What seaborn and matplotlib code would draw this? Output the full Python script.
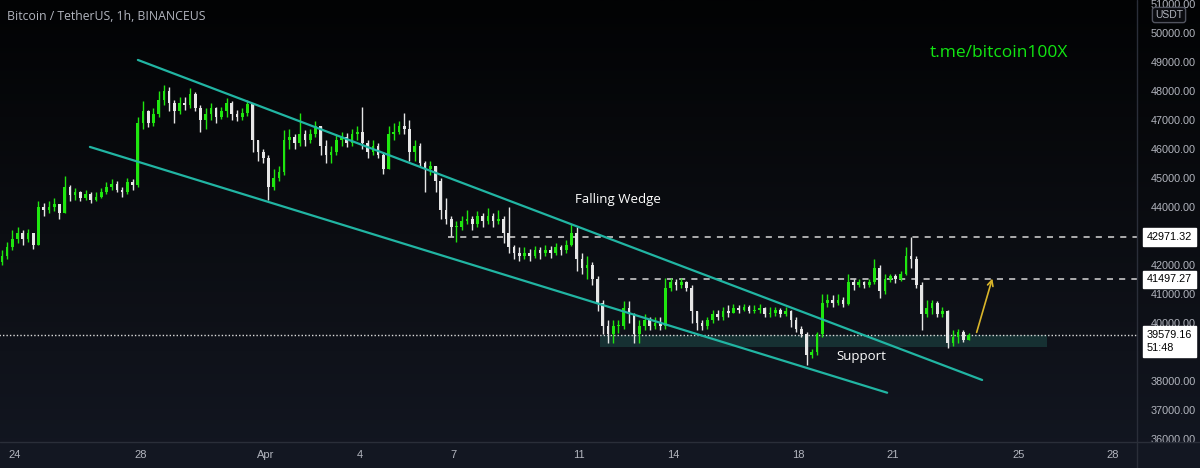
import numpy as np
import pandas as pd

import matplotlib
matplotlib.use('AGG')
import matplotlib.pyplot as plt
from matplotlib.patches import Rectangle
from matplotlib.colors import LinearSegmentedColormap
from matplotlib.transforms import blended_transform_factory
import seaborn as sns

sns.set_theme(style="dark", rc={
        "axes.facecolor": "none",
        "figure.facecolor": "#131722",
        'axes.spines.left': False,
        'axes.spines.right': False,
        'axes.spines.top': False,
        'axes.spines.bottom': False})
plt.rcParams['font.family'] = ['Liberation Sans', 'DejaVu Sans']

# 4h candles from Mar 23 12:00 to Apr 23 08:00, day 0 = Mar 24
start_day = -0.5
first_open = 42100

closes = [
    42300, 42600, 42900,                              # Mar 23
    43100, 42900, 43100, 42700, 44000, 43900,          # Mar 24
    44000, 44100, 43800, 44700, 44400, 44500,          # Mar 25
    44300, 44450, 44250, 44350, 44500, 44700,          # Mar 26
    44800, 44600, 44500, 44850, 44750, 46900,          # Mar 27
    47300, 46900, 47200, 47700, 48000, 47600,          # Mar 28
    47300, 47600, 47500, 47900, 47400, 47000,          # Mar 29
    47200, 47400, 47100, 47300, 47600, 47200,          # Mar 30
    47100, 47250, 47550, 46300, 45900, 45700,          # Mar 31
    44700, 45000, 45200, 46300, 46400, 46200,          # Apr 1
    46500, 46300, 46500, 46800, 46100, 45800,          # Apr 2
    45900, 46300, 46400, 46200, 46500, 46600,          # Apr 3
    46200, 45900, 46100, 45800, 45300, 46500,          # Apr 4
    46600, 46800, 46700, 45900, 46100, 45500,          # Apr 5
    45300, 45400, 44900, 43900, 43600, 43300,          # Apr 6
    43300, 43500, 43600, 43400, 43700, 43500,          # Apr 7
    43700, 43500, 43600, 43100, 42600, 42400,          # Apr 8
    42300, 42400, 42300, 42500, 42400, 42500,          # Apr 9
    42400, 42600, 42500, 42700, 43100, 42200,          # Apr 10
    41900, 42000, 41500, 40700, 39900, 39600,          # Apr 11
    39900, 39900, 40500, 40300, 39600, 39900,          # Apr 12
    40100, 39900, 40000, 39900, 41200, 41400,          # Apr 13
    41300, 41400, 41200, 40400, 40000, 39900,          # Apr 14
    40100, 40300, 40200, 40400, 40350, 40500,          # Apr 15
    40450, 40550, 40400, 40450, 40500, 40300,          # Apr 16
    40350, 40450, 40300, 40400, 40100, 39800,          # Apr 17
    39600, 38900, 39000, 39600, 40700, 40800,          # Apr 18
    40700, 40800, 40650, 41400, 41300, 41400,          # Apr 19
    41300, 41400, 41900, 41100, 41500, 41600,          # Apr 20
    41500, 41700, 42300, 42200, 41300, 40300,          # Apr 21
    40500, 40700, 40300, 40400, 39300, 39500,          # Apr 22
    39700, 39400, 39579.16,                            # Apr 23
]

highs = [
    42500, 42800, 43200,
    43300, 43200, 43250, 43000, 44200, 44150,
    44200, 44300, 44100, 45050, 44750, 44650,
    44550, 44600, 44500, 44500, 44650, 44850,
    44950, 44900, 44700, 45000, 44950, 47100,
    47650, 47350, 47400, 48000, 48200, 48150,
    47700, 47800, 47800, 48100, 47950, 47500,
    47400, 47600, 47450, 47450, 47750, 47650,
    47350, 47400, 47700, 47600, 46300, 46000,
    45800, 45300, 45400, 46650, 46700, 46500,
    47250, 46650, 46700, 46950, 46800, 46300,
    46100, 46500, 46600, 46550, 46700, 46800,
    47450, 46300, 46300, 46200, 45900, 46800,
    46900, 46950, 47250, 47000, 46300, 46200,
    45600, 45600, 45400, 45000, 44300, 43700,
    43500, 43700, 43900, 43700, 43850, 43800,
    43950, 43800, 43900, 43700, 44000, 42700,
    42600, 42600, 42550, 42650, 42600, 42700,
    42650, 42750, 42700, 42850, 43400, 43300,
    42400, 42300, 42100, 41600, 40800, 40100,
    40100, 40100, 40750, 40750, 40350, 40100,
    40300, 40200, 40200, 40200, 41550, 41550,
    41500, 41550, 41450, 41300, 40400, 40100,
    40200, 40450, 40450, 40550, 40600, 40650,
    40600, 40650, 40600, 40600, 40650, 40550,
    40550, 40550, 40500, 40550, 40450, 40200,
    39900, 39700, 39100, 39700, 41000, 41000,
    40950, 41000, 40900, 41700, 41500, 41500,
    41450, 41500, 42200, 42000, 41700, 41700,
    41700, 41800, 42600, 42971.32, 42300, 41400,
    40800, 40800, 40750, 40550, 40450, 39750,
    39800, 39750, 39650,
]

lows = [
    42000, 42200, 42500,
    42750, 42700, 42800, 42550, 42700, 43700,
    43800, 43850, 43600, 43800, 44200, 44250,
    44200, 44250, 44150, 44200, 44300, 44450,
    44600, 44500, 44350, 44450, 44600, 44700,
    46700, 46750, 46800, 47100, 47500, 47300,
    46900, 47200, 47350, 47400, 47300, 46600,
    46700, 47000, 46900, 47050, 47100, 47000,
    46950, 47000, 47150, 45900, 45600, 45500,
    44250, 44600, 44900, 45100, 46000, 46000,
    46100, 46100, 46200, 46400, 45800, 45500,
    45500, 45800, 46100, 46050, 46100, 46300,
    46000, 45700, 45800, 45700, 45150, 45300,
    46300, 46500, 46500, 45600, 45600, 45400,
    44500, 45100, 44500, 43600, 43400, 43000,
    42800, 43200, 43400, 43200, 43300, 43300,
    43400, 43300, 43400, 42750, 42400, 42200,
    42150, 42200, 42150, 42250, 42200, 42300,
    42250, 42350, 42350, 42400, 42650, 41800,
    41700, 41500, 41300, 40400, 39600, 39300,
    39300, 39650, 39800, 40000, 39300, 39300,
    39750, 39750, 39800, 39750, 39800, 41100,
    41150, 41200, 41100, 40000, 39750, 39750,
    39800, 40000, 40100, 40100, 40200, 40350,
    40350, 40400, 40350, 40350, 40350, 40200,
    40200, 40250, 40200, 40250, 39850, 39700,
    39500, 38550, 38800, 38900, 39500, 40550,
    40550, 40600, 40550, 40600, 41150, 41250,
    41200, 41250, 41350, 40850, 41000, 41400,
    41380, 41450, 41650, 41900, 41200, 39750,
    40200, 40300, 40200, 40200, 39150, 39200,
    39300, 39350, 39450,
]

# x ticks (days from Mar 24)
tick_days = [0, 4, 8, 11, 14, 18, 21, 25, 28, 32, 35]
tick_labels = ['24', '28', 'Apr', '4', '7', '11', '14', '18', '21', '25', '28']

# price scale; 43000 and 39000 sit under the price boxes
price_ticks = list(range(36000, 51001, 1000))
hidden_ticks = [43000, 39000]

# drawings
upper_line = {'day': [3.92, 30.85], 'price': [49070, 38030]}
lower_line = {'day': [2.39, 27.82], 'price': [46070, 37590]}
resistance = [42971.32, 41497.27]
resistance_start = [13.8, 19.23]
last_price = 39579.16
support_zone = (18.66, 32.92, 39170, 39580)

UP = '#1fe60f'
DOWN = '#e6e6e6'
TEAL = '#21b5a3'
GRAY = '#b2b5be'

df = pd.DataFrame({'close': closes, 'high': highs, 'low': lows})
df['open'] = [first_open] + closes[:-1]
df['day'] = start_day + np.arange(len(df)) / 6 + 1 / 12
df['high'] = df[['high', 'open', 'close']].max(axis=1)
df['low'] = df[['low', 'open', 'close']].min(axis=1)
df['color'] = np.where(df['close'] >= df['open'], UP, DOWN)

fig = plt.figure(figsize=(12, 4.68), dpi=100)

# background gradient
bg = fig.add_axes([0, 0, 1, 1], zorder=-5)
cmap = LinearSegmentedColormap.from_list('bg', ['#020304', '#0b0d12', '#131722'])
bg.imshow(np.linspace(0, 1, 256).reshape(-1, 1), aspect='auto', cmap=cmap,
          extent=[0, 1, 0, 1], origin='upper')
bg.set_axis_off()
fig.add_artist(Rectangle((0, 0), 1, 26 / 468, transform=fig.transFigure,
                         color='#131722', zorder=-4))
fig.add_artist(plt.Line2D([0, 1], [26 / 468, 26 / 468], transform=fig.transFigure,
                          color='#2a2e39', lw=1))
fig.add_artist(plt.Line2D([1137 / 1200, 1137 / 1200], [0, 1], transform=fig.transFigure,
                          color='#2a2e39', lw=1))

ax = fig.add_axes([0, 26 / 468, 1137 / 1200, 442 / 468])
ax.set_xlim(-0.478, 35.79)
ax.set_ylim(35890, 51138)

# candles
ax.vlines(df['day'], df['low'], df['high'], colors=df['color'], lw=1, zorder=3)
body = (df['close'] - df['open']).where(lambda s: s.abs() > 25, 25)
ax.bar(df['day'], body, bottom=df['open'], width=0.085, color=df['color'],
       linewidth=0, zorder=3)

# wedge
for line in (upper_line, lower_line):
    sns.lineplot(x=line['day'], y=line['price'], color=TEAL, lw=1.6, ax=ax, zorder=4)

# support zone
x0, x1, y0, y1 = support_zone
ax.add_patch(Rectangle((x0, y0), x1 - x0, y1 - y0, facecolor='#1d4644',
                       alpha=0.6, edgecolor='none', zorder=2))

# resistance levels
for lvl, s in zip(resistance, resistance_start):
    ax.plot([s, 36], [lvl, lvl], color='#d8d8d8', lw=1.1, ls=(0, (4, 4)), zorder=2)
ax.plot([-1, 36], [last_price, last_price], color='#dddddd', lw=1, ls=(0, (1, 1.5)), zorder=2)

ax.annotate('', xy=(31.2, 41620), xytext=(30.65, last_price),
            arrowprops=dict(arrowstyle='->', color='#d9b52a', lw=1.2,
                            mutation_scale=10), zorder=5)

ax.text(19.23, 44240, 'Falling Wedge', color='white', fontsize=9.5,
        family='Open Sans', ha='center', va='center')
ax.text(26.99, 38830, 'Support', color='white', fontsize=9.5,
        family='Open Sans', ha='center', va='center')
ax.text(31.39, 49310, 't.me/bitcoin100X', color='#12e612', fontsize=12.5,
        family='Open Sans', ha='center', va='center')

# axes
ax.yaxis.tick_right()
ax.set_yticks(price_ticks)
ax.set_yticklabels(['' if v in hidden_ticks else f'{v:.2f}' for v in price_ticks])
ax.tick_params(axis='y', length=0, pad=10, labelsize=7.8, colors=GRAY)
ax.set_xticks(tick_days)
ax.set_xticklabels(tick_labels)
ax.tick_params(axis='x', length=0, pad=6, labelsize=8, colors=GRAY)
ax.grid(False)

# price labels on the right scale
tr = blended_transform_factory(ax.transAxes, ax.transData)
for lvl in resistance:
    ax.text(1.0 + 10 / 1137, lvl, f'{lvl:.2f}', transform=tr, color='black',
            fontsize=7.8, va='center', ha='left', clip_on=False, zorder=6,
            bbox=dict(boxstyle='square,pad=0.35', fc='white', ec='white'))
ax.text(1.0 + 10 / 1137, last_price + 190, f'{last_price:.2f}\n51:48', transform=tr,
        color='black', fontsize=7.8, va='top', ha='left', clip_on=False, zorder=6,
        linespacing=1.4,
        bbox=dict(boxstyle='square,pad=0.35', fc='white', ec='white'))

fig.text(1169 / 1200, 1 - 15 / 468, 'USDT', color=GRAY, fontsize=7.5, ha='center', va='center',
         bbox=dict(boxstyle='round,pad=0.25', fc='#0a0b0f', ec='#50535e'))
fig.text(7 / 1200, 1 - 16 / 468, 'Bitcoin / TetherUS, 1h, BINANCEUS', color=GRAY,
         fontsize=8.8, family='Open Sans', ha='left', va='center')

fig.savefig('out.png', dpi=100)
